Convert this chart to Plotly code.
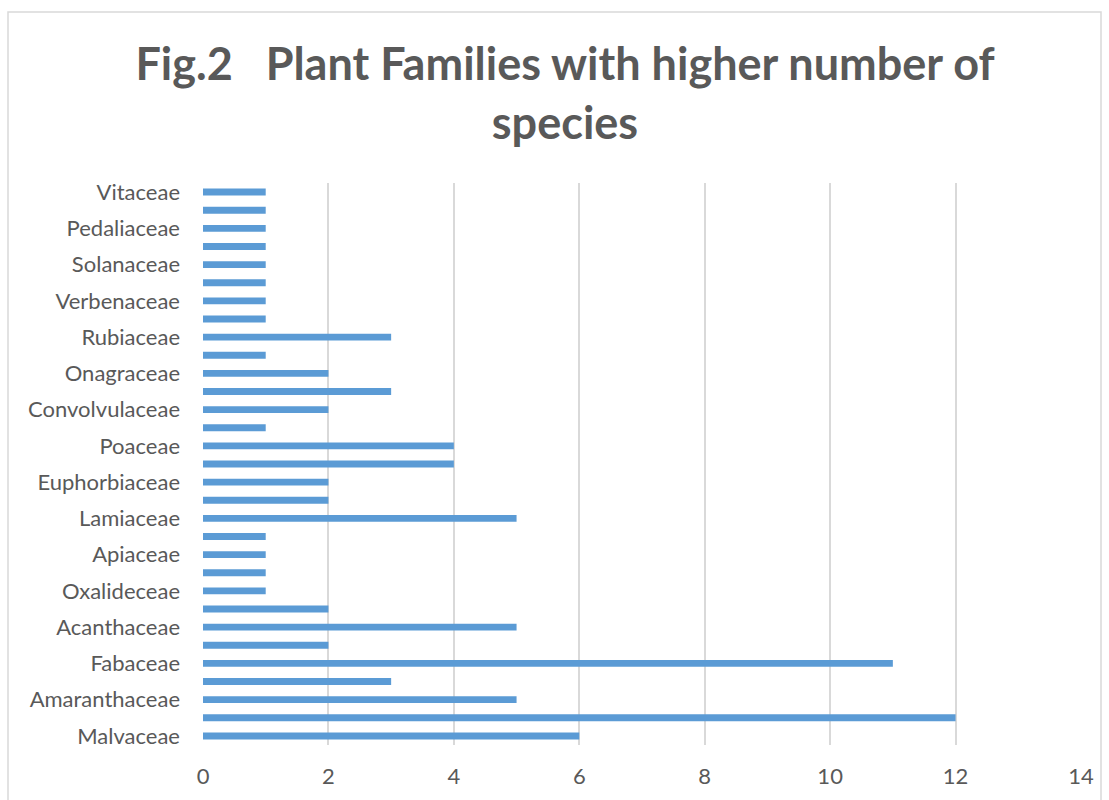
import plotly.graph_objects as go

# Categories from bottom to top; families whose labels are hidden in the reference get placeholder names
families = [
    "Malvaceae", "(unlabelled 2)", "Amaranthaceae", "(unlabelled 4)", "Fabaceae",
    "(unlabelled 6)", "Acanthaceae", "(unlabelled 8)", "Oxalideceae", "(unlabelled 10)",
    "Apiaceae", "(unlabelled 12)", "Lamiaceae", "(unlabelled 14)", "Euphorbiaceae",
    "(unlabelled 16)", "Poaceae", "(unlabelled 18)", "Convolvulaceae", "(unlabelled 20)",
    "Onagraceae", "(unlabelled 22)", "Rubiaceae", "(unlabelled 24)", "Verbenaceae",
    "(unlabelled 26)", "Solanaceae", "(unlabelled 28)", "Pedaliaceae", "(unlabelled 30)",
    "Vitaceae",
]
species = [6, 12, 5, 3, 11, 2, 5, 2, 1, 1, 1, 1, 5, 2, 2, 4, 4, 1, 2, 3, 2, 1, 3, 1, 1, 1, 1, 1, 1, 1, 1]
shown_labels = [f for f in families if not f.startswith("(")]
x_ticks = [0, 2, 4, 6, 8, 10, 12, 14]

grey = "#595959"
fig = go.Figure(go.Bar(
    x=species, y=families, orientation="h",
    marker=dict(color="#5b9bd5", line=dict(width=0)),
))

W, H = 1109, 800
L, T = 203, 183
R = W - 1081
B = H - 745
pw, ph = W - L - R, H - T - B

fig.update_layout(
    width=W, height=H,
    margin=dict(l=L, r=R, t=T, b=B, autoexpand=False),
    paper_bgcolor="white", plot_bgcolor="white",
    bargap=0.62,
    showlegend=False,
    title=dict(
        text="<b>Fig.2   Plant Families with higher number of<br>species</b>",
        x=565 / W, xref="container", xanchor="center",
        y=1 - 80 / H, yref="container", yanchor="top",
        font=dict(family="Lato", size=45, color=grey),
    ),
    font=dict(family="Lato", color=grey),
    xaxis=dict(
        range=[0, 14], tickvals=x_ticks, showgrid=True, gridcolor="#d9d9d9", gridwidth=1.8,
        zeroline=False, showline=False, ticks="", ticklabelstandoff=16, automargin=False,
        tickfont=dict(size=22, color=grey), fixedrange=True,
    ),
    yaxis=dict(
        type="category", categoryorder="array", categoryarray=families,
        tickvals=shown_labels, ticktext=shown_labels, automargin=False,
        showgrid=False, zeroline=False, showline=False, ticks="",
        ticklabelstandoff=22, tickfont=dict(size=22, color=grey), fixedrange=True,
    ),
    shapes=[dict(
        type="rect", xref="paper", yref="paper",
        x0=(8 - L) / pw, x1=(1101 - L) / pw,
        y0=-0.3, y1=1 + (T - 12) / ph,
        line=dict(color="#d9d9d9", width=1.5), fillcolor="rgba(0,0,0,0)", layer="below",
    )],
)

fig.write_html(
    "out.html",
    config={"displayModeBar": False},
    post_script="document.body.style.margin='0';document.body.style.overflow='hidden';",
)
